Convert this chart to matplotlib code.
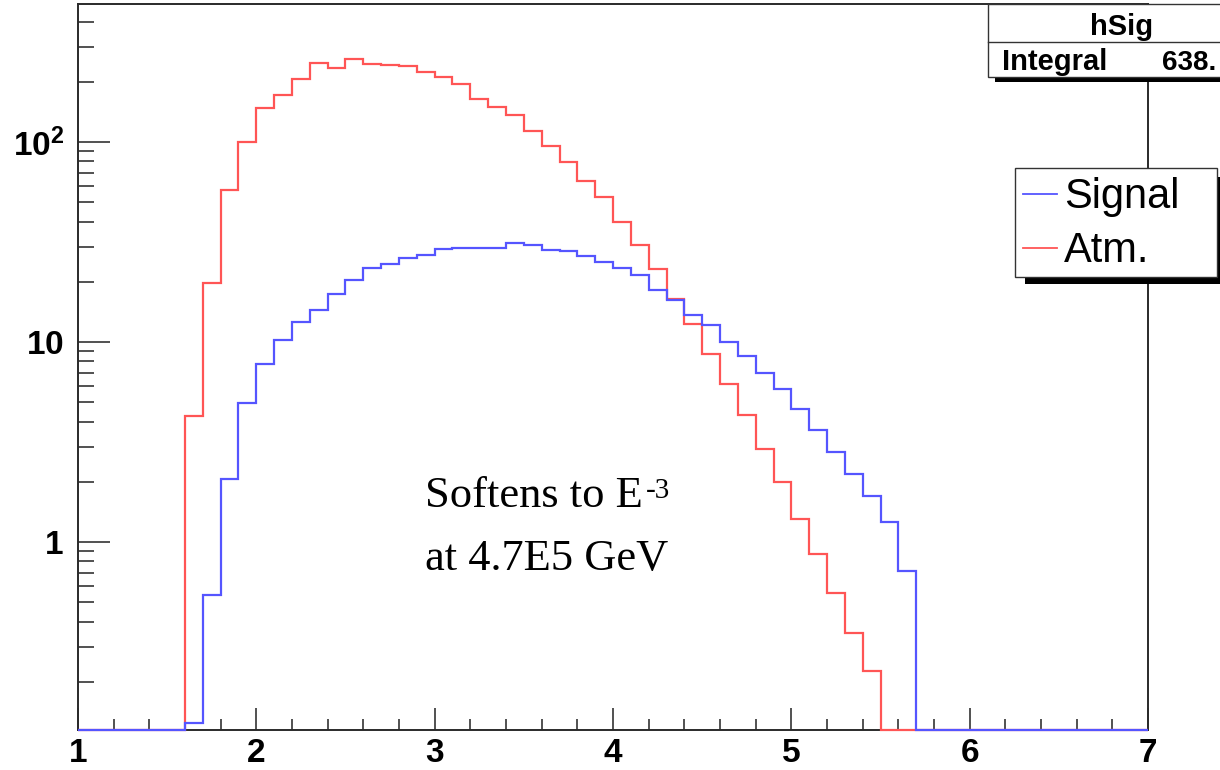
import numpy as np
import matplotlib
matplotlib.use("Agg")
import matplotlib.pyplot as plt
from matplotlib.patches import Rectangle
from matplotlib.lines import Line2D
from matplotlib.ticker import FixedLocator, MultipleLocator, LogLocator, NullFormatter

plt.rcParams['font.family'] = ['Liberation Sans', 'DejaVu Sans']
plt.rcParams['mathtext.fontset'] = 'custom'
plt.rcParams['mathtext.rm'] = 'Liberation Sans'
plt.rcParams['mathtext.bf'] = 'Liberation Sans:bold'

# ---------------- data ----------------
x_min, x_max, bin_width = 1.0, 7.0, 0.1
bin_edges = np.round(np.arange(x_min, x_max + bin_width / 2, bin_width), 1)

# counts per 0.1 bin, from x = 1.0 to 7.0 (60 bins)
signal = [0, 0, 0, 0, 0, 0,
          0.124, 0.543, 2.07, 4.97,
          7.76, 10.2, 12.6, 14.5, 17.3, 20.4, 23.4, 24.7, 26.4, 27.2,
          29.1, 29.5, 29.6, 29.6, 31.4, 30.5, 28.8, 28.5, 26.9, 25.0,
          23.4, 21.6, 18.3, 16.3, 13.6, 12.2, 10.0, 8.5, 7.03, 5.8,
          4.62, 3.63, 2.81, 2.18, 1.70, 1.26, 0.716,
          0, 0, 0, 0, 0, 0, 0, 0, 0, 0, 0, 0, 0]
atm = [0, 0, 0, 0, 0, 0,
       4.27, 19.7, 57.5, 99.6,
       148, 172, 206, 249, 235, 260, 247, 243, 240, 223,
       212, 196, 165, 150, 136, 113, 95.5, 79.1, 64.1, 52.9,
       39.7, 30.4, 23.1, 16.4, 12.3, 8.71, 6.17, 4.32, 2.92, 1.99,
       1.30, 0.871, 0.554, 0.353, 0.227,
       0, 0, 0, 0, 0, 0, 0, 0, 0, 0, 0, 0, 0, 0, 0]

series_labels = ['Signal', 'Atm.']
x_ticks = [1, 2, 3, 4, 5, 6, 7]
x_tick_labels = ['1', '2', '3', '4', '5', '6', '7']
y_ticks = [1, 10, 100]
y_tick_labels = [r'$\mathbf{1}$', r'$\mathbf{10}$', r'$\mathbf{10^{2}}$']
y_min, y_max = 0.115, 490

stats_title = 'hSig'
stats_name = 'Integral'
stats_value = '638.'
note_line1 = 'Softens to E'
note_sup = '-3'
note_line2 = 'at 4.7E5 GeV'

# ---------------- figure ----------------
W, H = 1220, 770
fig = plt.figure(figsize=(W / 100, H / 100), dpi=100)
fig.patch.set_facecolor('white')


def fx(px):
    return px / W


def fy(py):
    return 1 - py / H


ax = fig.add_axes([fx(78), fy(730), fx(1148) - fx(78), fy(4) - fy(730)])
ax.set_yscale('log')
ax.set_xlim(x_min, x_max)
ax.set_ylim(y_min, y_max)

red = '#ff5555'
blue = '#5555ff'
ax.stairs(np.clip(atm, y_min, None), bin_edges, baseline=None,
          color=red, lw=1.6, clip_on=False, zorder=3, label=series_labels[1])
ax.stairs(np.clip(signal, y_min, None), bin_edges, baseline=None,
          color=blue, lw=1.6, clip_on=False, zorder=4, label=series_labels[0])

# axes styling (ROOT look)
for side in ['left', 'bottom', 'right', 'top']:
    ax.spines[side].set_color('#2a2a2a')
    ax.spines[side].set_linewidth(1.4)

ax.xaxis.set_major_locator(FixedLocator(x_ticks))
ax.set_xticklabels(x_tick_labels)
ax.xaxis.set_minor_locator(MultipleLocator(0.2))
ax.yaxis.set_major_locator(FixedLocator(y_ticks))
ax.set_yticklabels(y_tick_labels)
ax.yaxis.set_minor_locator(LogLocator(base=10, subs=[2, 3, 4, 5, 6, 7, 8, 9]))
ax.yaxis.set_minor_formatter(NullFormatter())

ax.tick_params(axis='x', which='major', direction='in', length=15.5, width=1.2,
               color='#333333', labelsize=24, pad=6)
ax.tick_params(axis='x', which='minor', direction='in', length=7.7, width=1.2,
               color='#333333')
ax.tick_params(axis='y', which='major', direction='in', length=23, width=1.2,
               color='#333333', labelsize=24, pad=10)
ax.tick_params(axis='y', which='minor', direction='in', length=11.5, width=1.2,
               color='#333333')
for lab in ax.get_xticklabels() + ax.get_yticklabels():
    lab.set_fontweight('bold')

# ---------------- annotation ----------------
t1 = fig.text(fx(425), fy(506.7), note_line1, family='Liberation Serif',
              fontsize=32, va='baseline', ha='left')
fig.text(fx(425), fy(570), note_line2, family='Liberation Serif',
         fontsize=32, va='baseline', ha='left')
fig.canvas.draw()
bb = t1.get_window_extent()
fig.text((bb.x1 + 3) / W, fy(498), note_sup, family='Liberation Serif',
         fontsize=21, va='baseline', ha='left')

# ---------------- stats box ----------------
tr = fig.transFigure
fig.add_artist(Rectangle((fx(995), fy(82)), fx(1260) - fx(995), fy(77) - fy(82),
                         transform=tr, facecolor='black', edgecolor='none', zorder=10))
fig.add_artist(Rectangle((fx(988), fy(77)), fx(1260) - fx(988), fy(4) - fy(77),
                         transform=tr, facecolor='white', edgecolor='#333333',
                         lw=1.0, zorder=11))
fig.add_artist(Line2D([fx(988), fx(1260)], [fy(41.5), fy(41.5)], transform=tr,
                      color='#333333', lw=1.0, zorder=12))
fig.text(fx(1122), fy(35), stats_title, fontsize=21, fontweight='bold',
         ha='center', va='baseline', zorder=13)
fig.text(fx(1002), fy(70), stats_name, fontsize=21, fontweight='bold',
         ha='left', va='baseline', zorder=13)
fig.text(fx(1216), fy(70), stats_value, fontsize=20, fontweight='bold',
         ha='right', va='baseline', zorder=13)

# ---------------- legend box ----------------
fig.add_artist(Rectangle((fx(1025), fy(284)), fx(1224) - fx(1025), fy(177) - fy(284),
                         transform=tr, facecolor='black', edgecolor='none', zorder=10))
fig.add_artist(Rectangle((fx(1015), fy(277)), fx(1217) - fx(1015), fy(168) - fy(277),
                         transform=tr, facecolor='white', edgecolor='#333333',
                         lw=1.0, zorder=11))
legend_rows = [(series_labels[0], blue, 194, 208), (series_labels[1], red, 248, 262)]
for lab, col, ly, by in legend_rows:
    fig.add_artist(Line2D([fx(1023), fx(1057)], [fy(ly), fy(ly)], transform=tr,
                          color=col, lw=1.3, zorder=12))
    fig.text(fx(1064), fy(by), lab, fontsize=30, ha='left', va='baseline', zorder=13)

fig.savefig('out.png', dpi=100)
